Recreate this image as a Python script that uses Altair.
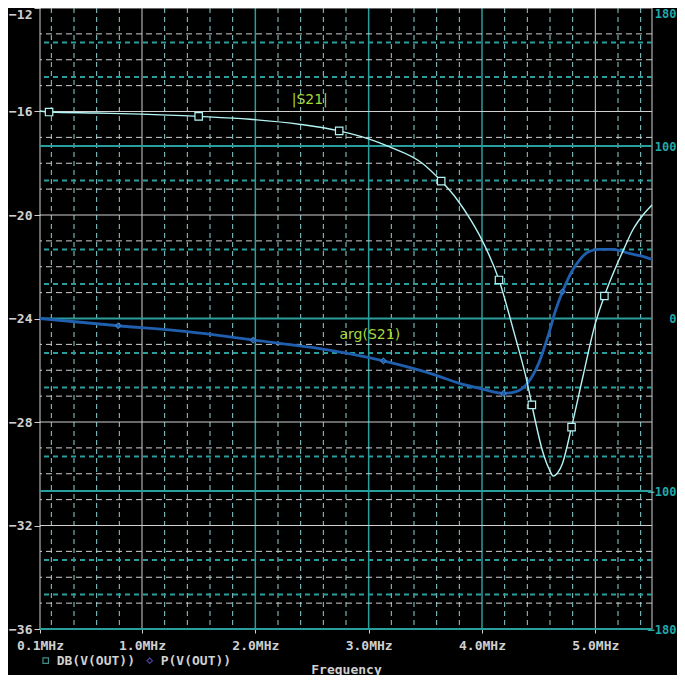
import altair as alt
import pandas as pd

# ---------------- data ----------------
s21_freq = [0.1, 0.18, 0.6, 1.0, 1.5, 1.95, 2.4, 2.74, 3.0, 3.18, 3.47, 3.64, 3.78,
            3.9, 4.0, 4.15, 4.28, 4.4, 4.44, 4.54, 4.59, 4.63, 4.67, 4.71, 4.79,
            4.89, 5.0, 5.08, 5.18, 5.25, 5.33, 5.42, 5.5]
s21_db = [-15.98, -16.02, -16.06, -16.10, -16.19, -16.30, -16.50, -16.75, -17.06,
          -17.36, -17.99, -18.69, -19.4, -20.19, -20.97, -22.51, -24.5, -26.5,
          -27.34, -29.21, -29.8, -30.09, -29.95, -29.6, -28.2, -26.25, -24.19,
          -23.13, -22.02, -21.33, -20.58, -20.0, -19.61]
s21_marker_freq = [0.18, 1.50, 2.74, 3.64, 4.15, 4.44, 4.79, 5.08]
s21_marker_db = [-16.02, -16.19, -16.75, -18.69, -22.51, -27.34, -28.2, -23.13]

arg_freq = [0.1, 0.79, 1.4, 1.98, 2.5, 3.13, 3.59, 3.8, 4.0, 4.19, 4.3, 4.4, 4.5,
            4.59, 4.65, 4.71, 4.8, 4.86, 4.94, 5.03, 5.15, 5.3, 5.42, 5.5]
arg_deg = [0.0, -4.2, -7.6, -12.5, -16.8, -24.6, -32.8, -37.6, -40.8, -43.4, -42.4,
           -37.6, -26.0, -8.6, 4.9, 15.5, 28.1, 33.9, 38.7, 40.1, 40.1, 37.7, 36.0,
           34.3]
arg_marker_freq = [0.79, 1.98, 3.13, 4.19, 4.71]
arg_marker_deg = [-4.2, -12.5, -24.6, -43.4, 15.5]

note_text = ["|S21|", "arg(S21)"]
note_freq = [2.48, 3.01]
note_db = [-15.56, -24.64]

x_ticks = [0.1, 1.0, 2.0, 3.0, 4.0, 5.0]
x_minor = [0.2, 0.4, 0.6, 0.8, 1.2, 1.4, 1.6, 1.8, 2.2, 2.4, 2.6, 2.8, 3.2, 3.4,
           3.6, 3.8, 4.2, 4.4, 4.6, 4.8, 5.2, 5.4]
x_major_white = [0.1, 1.0, 5.0, 5.5]
x_major_teal = [2.0, 3.0, 4.0]
db_ticks = [-36, -32, -28, -24, -20, -16, -12]
db_minor = [-35, -34, -33, -31, -30, -29, -27, -26, -25, -23, -22, -21, -19, -18,
            -17, -15, -14, -13]
db_major = [-32, -28, -24, -20, -16, -12]
deg_ticks = [-180, -100, 0, 100, 180]
deg_minor = [160, 140, 80, 40, 20, -20, -40, -80, -140, -160]
deg_major = [100, 0, -100, -180]

legend_names = ["DB(V(OUT))", "P(V(OUT))"]

# ---------------- styling ----------------
GRID_WHITE = "#cfcfcf"
LABEL_GREY = "#d0d0d0"
TEAL = "#2a9d9d"
TEAL_LABEL = "#22a8a8"
VDASH = "#8fd2d2"
CYAN = "#b4f4f4"
BLUE = "#1f5fae"
GREEN = "#a6d83c"
MONO = "DejaVu Sans Mono"

xscale = alt.Scale(domain=[0.1, 5.5], nice=False, zero=False)
dbscale = alt.Scale(domain=[-36, -12], nice=False, zero=False)
degscale = alt.Scale(domain=[-180, 180], nice=False, zero=False)

x_axis = alt.Axis(
    values=x_ticks, labelExpr="format(datum.value, '.1f') + 'MHz'",
    labelFlush=False, labelOverlap=False, grid=False, domain=False,
    tickSize=4, tickColor=GRID_WHITE, labelColor=LABEL_GREY, labelFont=MONO,
    labelFontSize=13, labelFontWeight="bold", labelPadding=6,
    titleColor=LABEL_GREY, titleFont=MONO, titleFontSize=13, titleFontWeight="bold",
    titleY=40, titleBaseline="middle",
)
left_axis = alt.Axis(
    values=db_ticks, grid=False, domain=False, tickSize=6, tickColor=GRID_WHITE,
    labelColor=LABEL_GREY, labelFont=MONO, labelFontSize=13, labelFontWeight="bold",
    labelPadding=2, labelOverlap=False, orient="left",
    labelBaseline={"condition": {"test": "datum.value == -12", "value": "top"},
                   "value": "middle"},
)
right_axis = alt.Axis(
    values=deg_ticks, grid=False, domain=False, ticks=False,
    labelColor=TEAL_LABEL, labelFont=MONO, labelFontSize=12, labelFontWeight="bold",
    labelPadding=24, labelAlign="right", labelOverlap=False, orient="right",
    labelBaseline={"condition": {"test": "datum.value == 180", "value": "top"},
                   "value": "middle"},
)

# every frequency encoding shares the same visible axis definition
X_FULL = dict(type="quantitative", scale=xscale, axis=x_axis, title="Frequency")


def vrule(vals, **kw):
    return alt.Chart(pd.DataFrame({"f": vals})).mark_rule(**kw).encode(
        x=alt.X("f", **X_FULL))


def hrule(vals, scale, **kw):
    return alt.Chart(pd.DataFrame({"v": vals})).mark_rule(**kw).encode(
        y=alt.Y("v", type="quantitative", scale=scale, axis=None))


layers = [
    vrule(x_minor, color=VDASH, strokeWidth=1, strokeDash=[5, 4]),
    vrule(x_major_teal, color=TEAL, strokeWidth=1.5),
    vrule(x_major_white, color=GRID_WHITE, strokeWidth=1),
    hrule(db_minor, dbscale, color=GRID_WHITE, strokeWidth=1, strokeDash=[6, 4]),
    hrule(db_major, dbscale, color=GRID_WHITE, strokeWidth=1),
    hrule(deg_minor, degscale, color=TEAL, strokeWidth=2, strokeDash=[5, 4]),
    hrule(deg_major, degscale, color=TEAL, strokeWidth=2),
]

# arg(S21) trace with the right axis
arg_line = alt.Chart(pd.DataFrame({"f": arg_freq, "deg": arg_deg})).mark_line(
    color=BLUE, strokeWidth=2.8, interpolate="monotone").encode(
    x=alt.X("f", **X_FULL),
    y=alt.Y("deg", type="quantitative", scale=degscale, axis=right_axis, title=None),
)
arg_marks = alt.Chart(pd.DataFrame({"f": arg_marker_freq, "deg": arg_marker_deg})).mark_point(
    shape="diamond", filled=False, stroke="#3a78c0", strokeWidth=1.2, size=30,
    opacity=1).encode(
    x=alt.X("f", **X_FULL),
    y=alt.Y("deg", type="quantitative", scale=degscale, axis=None))

# |S21| trace with the left axis
s21_line = alt.Chart(pd.DataFrame({"f": s21_freq, "db": s21_db})).mark_line(
    color=CYAN, strokeWidth=1.4, interpolate="monotone").encode(
    x=alt.X("f", **X_FULL),
    y=alt.Y("db", type="quantitative", scale=dbscale, axis=left_axis, title=None),
)
s21_marks = alt.Chart(pd.DataFrame({"f": s21_marker_freq, "db": s21_marker_db})).mark_point(
    shape="square", filled=True, fill="black", stroke=CYAN, strokeWidth=1.2,
    size=55, opacity=1).encode(
    x=alt.X("f", **X_FULL),
    y=alt.Y("db", type="quantitative", scale=dbscale, axis=None))
notes = alt.Chart(pd.DataFrame({"t": note_text, "f": note_freq, "db": note_db})).mark_text(
    font="DejaVu Sans", fontSize=14, color=GREEN, align="center",
    baseline="middle").encode(
    x=alt.X("f", **X_FULL),
    y=alt.Y("db", type="quantitative", scale=dbscale, axis=None),
    text="t:N")

legend_sq = alt.Chart(pd.DataFrame({"a": [0]})).mark_point(
    shape="square", filled=False, color="#5cc8c8", size=30, strokeWidth=1.2).encode(
    x=alt.value(5.7), y=alt.value(652.7))
legend_dm = alt.Chart(pd.DataFrame({"a": [0]})).mark_point(
    shape="diamond", filled=False, color="#6a5ad0", size=30, strokeWidth=1.2).encode(
    x=alt.value(109.7), y=alt.value(652.7))
legend_t1 = alt.Chart(pd.DataFrame({"t": [legend_names[0]]})).mark_text(
    font=MONO, fontSize=13, fontWeight="bold", color=LABEL_GREY, align="left",
    baseline="middle").encode(x=alt.value(16.7), y=alt.value(652.7), text="t:N")
legend_t2 = alt.Chart(pd.DataFrame({"t": [legend_names[1]]})).mark_text(
    font=MONO, fontSize=13, fontWeight="bold", color=LABEL_GREY, align="left",
    baseline="middle").encode(x=alt.value(120.7), y=alt.value(652.7), text="t:N")

layers += [arg_line, arg_marks, s21_line, s21_marks, notes,
           legend_sq, legend_dm, legend_t1, legend_t2]

chart = alt.layer(*layers).resolve_scale(
    y="independent"
).resolve_axis(
    y="independent"
).properties(
    width=612, height=621,
    autosize=alt.AutoSizeParams(type="none"),
    padding={"left": 32, "top": 0, "right": 25, "bottom": 46},
).configure(background="black").configure_view(stroke="transparent")

chart.save("out.html", embed_options={"renderer": "svg", "actions": False})
